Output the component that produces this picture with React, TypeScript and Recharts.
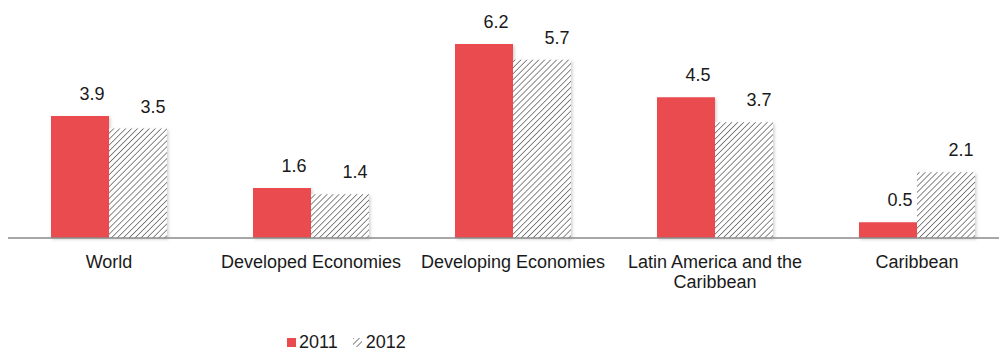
import React from "react";
import {
    BarChart,
    Bar,
    XAxis,
    YAxis,
    LabelList,
    Legend,
    Text,
} from "recharts";

// Economic growth by region (%)
const categories = [
    "World",
    "Developed Economies",
    "Developing Economies",
    "Latin America and the Caribbean",
    "Caribbean",
];
const values2011 = [3.9, 1.6, 6.2, 4.5, 0.5];
const values2012 = [3.5, 1.4, 5.7, 3.7, 2.1];
const seriesNames = ["2011", "2012"];

const RED = "#EA4B4F";
const FONT = '"Liberation Sans", Arial, sans-serif';

const data = categories.map((name, i) => ({
    name,
    y2011: values2011[i],
    y2012: values2012[i],
}));

const CategoryTick = (props: any) => {
    const { x, y, payload } = props;
    return (
        <Text
            x={x}
            y={y + 17}
            width={200}
            textAnchor="middle"
            verticalAnchor="start"
            lineHeight={20}
            fontSize={18}
            fontFamily={FONT}
            fill="#1a1a1a"
        >
            {payload.value}
        </Text>
    );
};

// value labels sit a bit to the right of the bar centre, like in the original
const makeValueLabel = (dx: number) => (p: any) => {
    const { x, y, width, value } = p;
    return (
        <text
            x={x + width / 2 + dx}
            y={y - 16}
            textAnchor="middle"
            fontSize={18}
            fontFamily={FONT}
            fill="#1a1a1a"
        >
            {value.toFixed(1)}
        </text>
    );
};

const LegendContent = () => (
    <div
        style={{
            display: "flex",
            alignItems: "center",
            fontFamily: FONT,
            fontSize: 18,
            lineHeight: "16px",
            color: "#1a1a1a",
        }}
    >
        <svg width={9} height={9} style={{ marginRight: 3 }}>
            <rect width={9} height={9} fill={RED} />
        </svg>
        <span>{seriesNames[0]}</span>
        <svg width={9} height={9} style={{ marginLeft: 15, marginRight: 4 }}>
            <rect width={9} height={9} fill="url(#hatch)" />
        </svg>
        <span>{seriesNames[1]}</span>
    </div>
);

export default function App() {
    return (
        <div style={{ width: 999, height: 343, overflow: "hidden", position: "relative" }}>
            <BarChart
                width={1010}
                height={343}
                data={data}
                margin={{ top: 11, right: 0, left: 0, bottom: 73 }}
                barGap={0}
            >
                <defs>
                    <pattern
                        id="hatch"
                        patternUnits="userSpaceOnUse"
                        width={4.2}
                        height={4.2}
                        patternTransform="rotate(45)"
                    >
                        <rect width={4.2} height={4.2} fill="#ffffff" />
                        <line x1={0} y1={0} x2={0} y2={4.2} stroke="#606060" strokeWidth={1.5} />
                    </pattern>
                    <filter id="shadow" x="-10%" y="-10%" width="130%" height="130%">
                        <feDropShadow dx={1.5} dy={1.5} stdDeviation={1.5} floodColor="#000" floodOpacity={0.18} />
                    </filter>
                </defs>
                <XAxis
                    dataKey="name"
                    interval={0}
                    height={40}
                    tickLine={false}
                    tickSize={0}
                    tickMargin={0}
                    axisLine={{ stroke: "#8a8a8a", strokeWidth: 1.5 }}
                    tick={<CategoryTick />}
                />
                <YAxis hide domain={[0, 7]} />
                <Legend
                    layout="vertical"
                    align="center"
                    verticalAlign="middle"
                    content={<LegendContent />}
                    wrapperStyle={{ left: 279, top: 326, width: 200, height: 16 }}
                />
                <Bar
                    dataKey="y2011"
                    name={seriesNames[0]}
                    fill={RED}
                    barSize={58}
                    filter="url(#shadow)"
                    isAnimationActive={false}
                >
                    <LabelList dataKey="y2011" content={makeValueLabel(12)} />
                </Bar>
                <Bar
                    dataKey="y2012"
                    name={seriesNames[1]}
                    fill="url(#hatch)"
                    barSize={58}
                    filter="url(#shadow)"
                    isAnimationActive={false}
                >
                    <LabelList dataKey="y2012" content={makeValueLabel(15)} />
                </Bar>
            </BarChart>
        </div>
    );
}
